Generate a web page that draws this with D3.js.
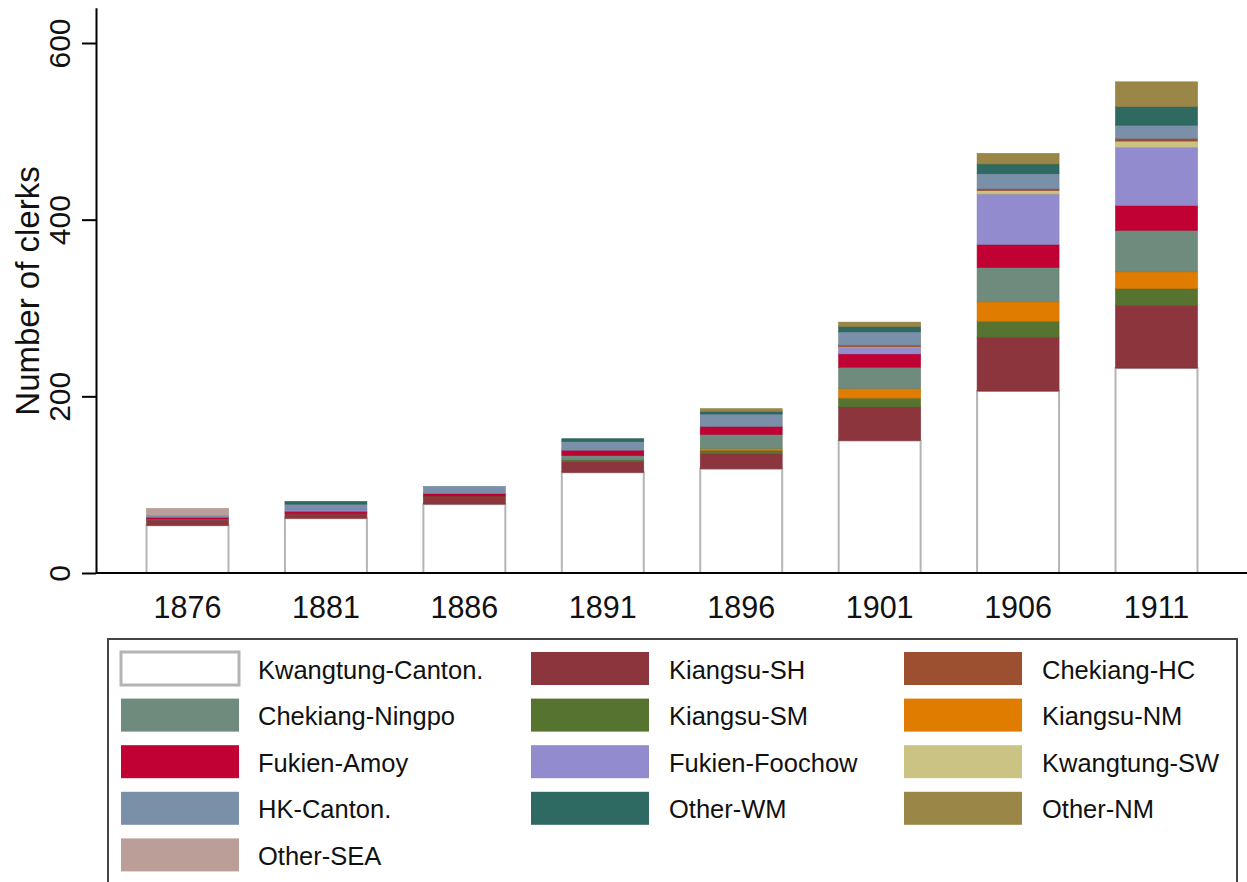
<!DOCTYPE html>
<html>
<head>
<meta charset="utf-8">
<script src="https://cdn.jsdelivr.net/npm/d3@7"></script>
<style>
  html, body { margin: 0; padding: 0; background: #fff; }
  svg { display: block; font-family: "Liberation Sans", Arial, sans-serif; }
</style>
</head>
<body>
<svg id="chart" width="1247" height="882"></svg>
<script>
// ---------- DATA ----------
const years = ["1876", "1881", "1886", "1891", "1896", "1901", "1906", "1911"];
const yTicks = [0, 200, 400, 600];

const kwangtungCanton = [54, 62, 78, 114, 118, 150, 206, 232];
const kiangsuSH       = [6, 6, 8, 12, 17, 38, 61, 71];
const kiangsuSM       = [0, 0, 1, 2, 4, 10, 18, 19];
const kiangsuNM       = [0, 0, 0, 0, 2, 11, 22, 19];
const chekiangNingpo  = [1, 0, 0, 5, 16, 24, 39, 47];
const fukienAmoy      = [2, 2, 3, 6, 9, 15, 26, 28];
const fukienFoochow   = [0, 2, 0, 0, 0, 7, 57, 66];
const kwangtungSW     = [0, 0, 0, 0, 0, 1, 4, 7];
const chekiangHC      = [0, 0, 0, 0, 0, 2, 2, 3];
const hkCanton        = [2, 6, 8, 10, 14, 15, 17, 15];
const otherWM         = [0, 3, 0, 3, 3, 6, 11, 21];
const otherNM         = [0, 0, 0, 0, 3, 5, 12, 28];
const otherSEA        = [8, 0, 0, 0, 0, 0, 0, 0];

// stacking order (bottom to top)
const seriesNames = ["Kwangtung-Canton.", "Kiangsu-SH", "Kiangsu-SM", "Kiangsu-NM", "Chekiang-Ningpo",
  "Fukien-Amoy", "Fukien-Foochow", "Kwangtung-SW", "Chekiang-HC", "HK-Canton.", "Other-WM", "Other-NM", "Other-SEA"];
const seriesValues = [kwangtungCanton, kiangsuSH, kiangsuSM, kiangsuNM, chekiangNingpo,
  fukienAmoy, fukienFoochow, kwangtungSW, chekiangHC, hkCanton, otherWM, otherNM, otherSEA];
// legend order (row-wise, 3 columns)
const legendOrder = ["Kwangtung-Canton.", "Kiangsu-SH", "Chekiang-HC", "Chekiang-Ningpo", "Kiangsu-SM", "Kiangsu-NM",
  "Fukien-Amoy", "Fukien-Foochow", "Kwangtung-SW", "HK-Canton.", "Other-WM", "Other-NM", "Other-SEA"];

const colors = {
  "Kwangtung-Canton.": "#ffffff",
  "Kiangsu-SH": "#8c353c",
  "Chekiang-HC": "#9c5030",
  "Chekiang-Ningpo": "#6e8b7d",
  "Kiangsu-SM": "#56742f",
  "Kiangsu-NM": "#e07c00",
  "Fukien-Amoy": "#c10034",
  "Fukien-Foochow": "#928ccf",
  "Kwangtung-SW": "#cbc383",
  "HK-Canton.": "#7a8fa8",
  "Other-WM": "#2e6a62",
  "Other-NM": "#9a8747",
  "Other-SEA": "#bc9e98"
};

// ---------- BUILD TABLE ----------
const table = years.map((yr, i) => {
  const row = { year: yr };
  seriesNames.forEach((s, j) => { row[s] = seriesValues[j][i]; });
  return row;
});
const stacked = d3.stack().keys(seriesNames)(table);

// ---------- SCALES ----------
const svg = d3.select("#chart");
const axisX = 96, baseY = 573, topY = 43;
const y = d3.scaleLinear().domain([0, 640]).range([baseY, baseY - 640 * (baseY - topY) / 600]);
const x = d3.scaleBand().domain(years).range([axisX, 1248]).paddingInner(0.408).paddingOuter(0.365);

// ---------- BARS ----------
const g = svg.append("g");
stacked.forEach(layer => {
  const name = layer.key;
  g.selectAll(null).data(layer.filter(d => d[1] - d[0] > 0)).enter()
    .append("rect")
    .attr("x", d => x(d.data.year))
    .attr("width", x.bandwidth())
    .attr("y", d => y(d[1]))
    .attr("height", d => y(d[0]) - y(d[1]))
    .attr("fill", colors[name])
    .attr("stroke", name === "Kwangtung-Canton." ? "#b4b4b4" : d3.color(colors[name]).darker(0.3))
    .attr("stroke-width", name === "Kwangtung-Canton." ? 2 : 0.6);
});

// ---------- AXES ----------
const yAxis = d3.axisLeft(y).tickValues(yTicks).tickSize(14).tickSizeOuter(0).tickPadding(12);
const yg = svg.append("g").attr("transform", `translate(${axisX},0)`).call(yAxis);
yg.select(".domain").attr("stroke", "#000").attr("stroke-width", 2);
yg.selectAll(".tick line").attr("stroke", "#000").attr("stroke-width", 2);
yg.selectAll(".tick text")
  .attr("font-size", 30).attr("fill", "#111")
  .attr("font-family", "Liberation Sans, Arial, sans-serif")
  .attr("transform", "rotate(-90, -26, 0)")
  .attr("x", -26).attr("dy", "0").attr("y", 0)
  .attr("text-anchor", "middle")
  .attr("dominant-baseline", "auto");

// x baseline
svg.append("line").attr("x1", axisX).attr("x2", 1247).attr("y1", y(0)).attr("y2", y(0))
  .attr("stroke", "#000").attr("stroke-width", 2);

// x labels
const xAxis = d3.axisBottom(x).tickSize(0).tickPadding(23);
const xg = svg.append("g").attr("transform", `translate(0,${baseY})`).call(xAxis);
xg.select(".domain").remove();
xg.selectAll(".tick text").attr("font-size", 30.5).attr("fill", "#111")
  .attr("font-family", "Liberation Sans, Arial, sans-serif");

// y title
svg.append("text")
  .attr("transform", `translate(39, 291) rotate(-90)`)
  .attr("text-anchor", "middle")
  .attr("font-size", 33).attr("fill", "#111")
  .text("Number of clerks");

// ---------- LEGEND ----------
const lg = svg.append("g");
lg.append("rect").attr("x", 108).attr("y", 639).attr("width", 1129).attr("height", 260)
  .attr("fill", "#fff").attr("stroke", "#444").attr("stroke-width", 2);
const colSwX = [121, 531, 904];
const colTxX = [258, 669, 1042];
const rowTop = 652, rowStep = 46.6, swW = 118, swH = 33;
legendOrder.forEach((name, i) => {
  const c = i % 3, r = Math.floor(i / 3);
  const ty = rowTop + r * rowStep;
  lg.append("rect").attr("x", colSwX[c]).attr("y", ty).attr("width", swW).attr("height", swH)
    .attr("fill", colors[name])
    .attr("stroke", name === "Kwangtung-Canton." ? "#b4b4b4" : "none")
    .attr("stroke-width", 3);
  lg.append("text").attr("x", colTxX[c]).attr("y", ty + swH / 2 + 10)
    .attr("font-size", 25.5).attr("fill", "#111").text(name);
});
</script>
</body>
</html>
